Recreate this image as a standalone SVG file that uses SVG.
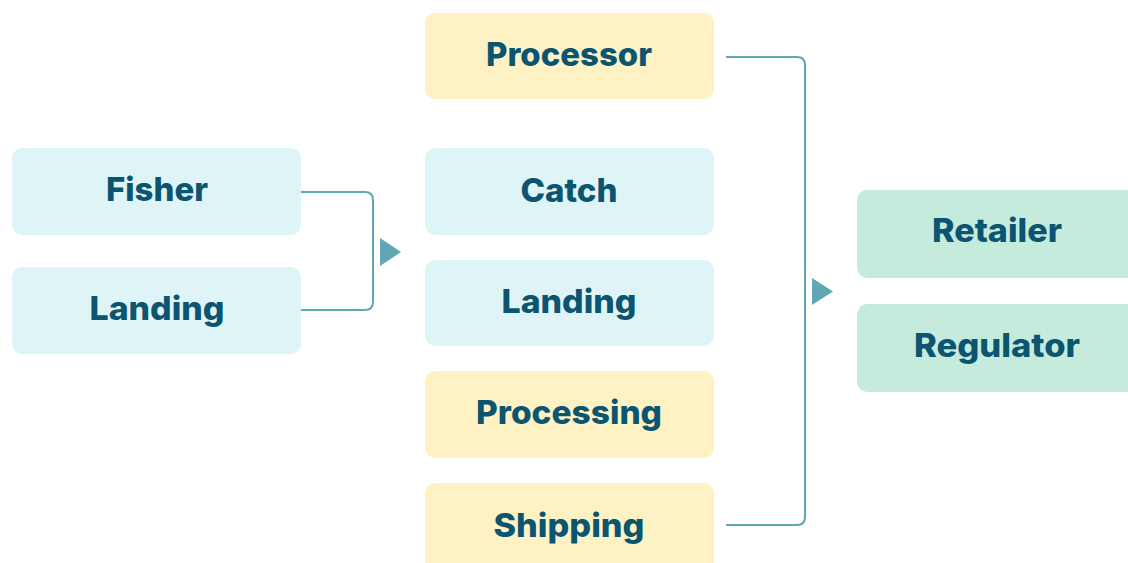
<svg xmlns="http://www.w3.org/2000/svg" width="1128" height="563" viewBox="0 0 1128 563">
  <style>
    .box { stroke: none; }
    .blue { fill: #DFF4F7; }
    .yellow { fill: #FEF2C5; }
    .green { fill: #C5EBDC; }
    .label { font-family: Inter, "Open Sans", "Liberation Sans", sans-serif; font-weight: 800; font-size: 33px; fill: #0B5571; text-anchor: middle; }
    .wire { fill: none; stroke: #5FA8B3; stroke-width: 2; }
    .head { fill: #5FA8B3; }
  </style>
  <rect width="1128" height="563" fill="#FFFFFF"/>

  <!-- Sources -->
  <g id="fisher">
    <rect class="box blue" x="12" y="148" width="289" height="87" rx="10"/>
    <text class="label" x="157" y="201" textLength="102" lengthAdjust="spacingAndGlyphs">Fisher</text>
  </g>
  <g id="landing-source">
    <rect class="box blue" x="12" y="267" width="289" height="87" rx="10"/>
    <text class="label" x="157" y="320" textLength="135" lengthAdjust="spacingAndGlyphs">Landing</text>
  </g>

  <!-- Middle column -->
  <g id="processor">
    <rect class="box yellow" x="425" y="13" width="289" height="86" rx="10"/>
    <text class="label" x="569" y="66" textLength="166" lengthAdjust="spacingAndGlyphs">Processor</text>
  </g>
  <g id="catch">
    <rect class="box blue" x="425" y="148" width="289" height="87" rx="10"/>
    <text class="label" x="569" y="201.5" textLength="97" lengthAdjust="spacingAndGlyphs">Catch</text>
  </g>
  <g id="landing">
    <rect class="box blue" x="425" y="260" width="289" height="86" rx="10"/>
    <text class="label" x="569" y="313" textLength="135" lengthAdjust="spacingAndGlyphs">Landing</text>
  </g>
  <g id="processing">
    <rect class="box yellow" x="425" y="371" width="289" height="87" rx="10"/>
    <text class="label" x="569" y="424" textLength="186" lengthAdjust="spacingAndGlyphs">Processing</text>
  </g>
  <g id="shipping">
    <rect class="box yellow" x="425" y="483" width="289" height="100" rx="10"/>
    <text class="label" x="569" y="537" textLength="151" lengthAdjust="spacingAndGlyphs">Shipping</text>
  </g>

  <!-- Targets -->
  <g id="retailer">
    <rect class="box green" x="857" y="190" width="290" height="88" rx="10"/>
    <text class="label" x="997" y="242" textLength="130" lengthAdjust="spacingAndGlyphs">Retailer</text>
  </g>
  <g id="regulator">
    <rect class="box green" x="857" y="304" width="290" height="88" rx="10"/>
    <text class="label" x="997" y="357" textLength="166" lengthAdjust="spacingAndGlyphs">Regulator</text>
  </g>

  <!-- Connectors -->
  <g id="connectors">
    <path class="wire" d="M301 192 H365 Q373 192 373 200 V302 Q373 310 365 310 H301"/>
    <polygon class="head" points="380,238 401,252 380,266"/>
    <path class="wire" d="M726 57 H797 Q805 57 805 65 V517 Q805 525 797 525 H726"/>
    <polygon class="head" points="812,278 833,291.5 812,305"/>
  </g>
</svg>
